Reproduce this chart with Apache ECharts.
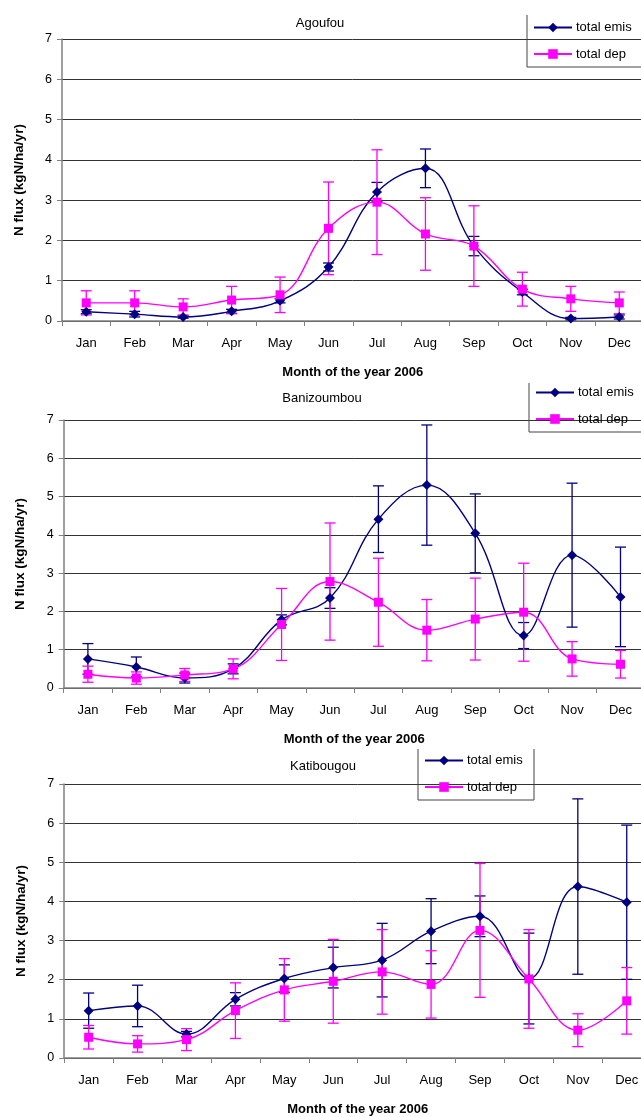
<!DOCTYPE html>
<html><head><meta charset="utf-8">
<script src="https://cdn.jsdelivr.net/npm/echarts@6/dist/echarts.min.js"></script>
<style>html,body{margin:0;padding:0;overflow:hidden;background:#fff;width:641px;height:1117px}#c{width:660px;height:1117px}</style>
</head><body><div id="c"></div>
<script>
const months = ['Jan','Feb','Mar','Apr','May','Jun','Jul','Aug','Sep','Oct','Nov','Dec'];
const siteNames = ['Agoufou','Banizoumbou','Katibougou'];
const xTitle = 'Month of the year 2006';
const yTitle = 'N flux (kgN/ha/yr)';
const yTicks = [0,1,2,3,4,5,6,7];

const agoufouEmis    = [0.23,0.17,0.10,0.24,0.50,1.34,3.20,3.79,1.86,0.72,0.06,0.10];
const agoufouEmisErr = [0.05,0.07,0.03,0.05,0.05,0.10,0.24,0.48,0.24,0.07,0.03,0.05];
const agoufouDep     = [0.45,0.45,0.35,0.52,0.65,2.30,2.95,2.16,1.86,0.79,0.55,0.45];
const agoufouDepErr  = [0.30,0.30,0.20,0.34,0.44,1.15,1.30,0.90,1.00,0.42,0.31,0.27];

const baniEmis    = [0.76,0.55,0.26,0.50,1.78,2.35,4.41,5.30,4.04,1.37,3.47,2.38];
const baniEmisErr = [0.40,0.26,0.13,0.13,0.13,0.27,0.87,1.57,1.03,0.34,1.88,1.30];
const baniDep     = [0.36,0.26,0.34,0.50,1.66,2.78,2.24,1.51,1.80,1.98,0.76,0.62];
const baniDepErr  = [0.21,0.16,0.17,0.26,0.94,1.53,1.15,0.80,1.07,1.28,0.45,0.36];

const katiEmis    = [1.21,1.33,0.61,1.50,2.03,2.31,2.50,3.24,3.62,2.03,4.38,3.98];
const katiEmisErr = [0.45,0.53,0.07,0.17,0.35,0.52,0.94,0.83,0.52,1.16,2.24,1.97];
const katiDep     = [0.53,0.36,0.47,1.21,1.74,1.96,2.20,1.88,3.26,2.02,0.71,1.46];
const katiDepErr  = [0.30,0.21,0.28,0.71,0.80,1.07,1.08,0.86,1.71,1.26,0.42,0.85];

const EMIS = '#000080', DEP = '#FF00FF';
const FONT = 'Liberation Sans, Arial, sans-serif';

const panels = [
  {emis: agoufouEmis, emisErr: agoufouEmisErr, dep: agoufouDep, depErr: agoufouDepErr},
  {emis: baniEmis, emisErr: baniEmisErr, dep: baniDep, depErr: baniDepErr},
  {emis: katiEmis, emisErr: katiEmisErr, dep: katiDep, depErr: katiDepErr}
];

// layout (pixels)
const gridPos = [
  {left: 62, top: 39, width: 581.5, height: 282},
  {left: 63.7, top: 420, width: 581, height: 268},
  {left: 64.2, top: 784, width: 587, height: 276}
];
const titlePos = [{x: 320, y: 17}, {x: 322, y: 392}, {x: 323, y: 760}];
const legendPos = [{left: 533, top: 21}, {left: 535, top: 386}, {left: 424, top: 754}];
const legendBox = [
  [[527,15],[527,67],[660,67]],
  [[529,383],[529,432],[660,432]],
  [[418,749],[418,800],[534,800],[534,749]]
];

function errItem(color) {
  return function (params, api) {
    const i = api.value(0), lo = api.value(1), hi = api.value(2);
    const a = api.coord([i, hi]), b = api.coord([i, lo]);
    const w = 5.5;
    const style = {stroke: color, lineWidth: 1.3, fill: null};
    return {type: 'group', children: [
      {type: 'line', shape: {x1: a[0], y1: a[1], x2: b[0], y2: b[1]}, style: style},
      {type: 'line', shape: {x1: a[0]-w, y1: a[1], x2: a[0]+w, y2: a[1]}, style: style},
      {type: 'line', shape: {x1: b[0]-w, y1: b[1], x2: b[0]+w, y2: b[1]}, style: style}
    ]};
  };
}
function errData(vals, errs) {
  return vals.map((v, i) => [i, Math.max(0, v - errs[i]), v + errs[i]]);
}

const option = {
  animation: false,
  backgroundColor: '#fff',
  textStyle: {fontFamily: FONT},
  title: siteNames.map((n, k) => ({
    text: n, left: titlePos[k].x, top: titlePos[k].y, textAlign: 'center', padding: 0,
    textStyle: {fontSize: 13, fontWeight: 'normal', color: '#000', fontFamily: FONT}
  })),
  grid: gridPos.map(g => Object.assign({containLabel: false}, g)),
  legend: legendPos.map(p => ({
    orient: 'vertical', left: p.left, top: p.top, padding: 0, itemGap: 13.5,
    itemWidth: 38, itemHeight: 12, data: ['total emis', 'total dep'],
    textStyle: {fontSize: 13, color: '#000', fontFamily: FONT, padding: [0,0,0,-1]},
    selectedMode: false
  })),
  graphic: legendBox.map(pts => ({
    type: 'polyline', shape: {points: pts}, style: {stroke: '#444', lineWidth: 1, fill: null}, z: 100
  })),
  xAxis: panels.map((p, k) => ({
    type: 'category', gridIndex: k, data: months, boundaryGap: true,
    name: xTitle, nameLocation: 'middle', nameGap: 45,
    nameTextStyle: {fontSize: 13, fontWeight: 'bold', color: '#000', fontFamily: FONT},
    axisLine: {lineStyle: {color: '#808080', width: 1.5}},
    axisTick: {show: true, length: 5, alignWithLabel: false, lineStyle: {color: '#808080'}},
    axisLabel: {fontSize: 13, color: '#000', margin: 16, interval: 0, fontFamily: FONT},
    splitLine: {show: false}
  })),
  yAxis: panels.map((p, k) => ({
    type: 'value', gridIndex: k, min: yTicks[0], max: yTicks[yTicks.length-1], interval: 1,
    name: yTitle, nameLocation: 'middle', nameGap: 36,
    nameTextStyle: {fontSize: 13.5, fontWeight: 'bold', color: '#000', fontFamily: FONT},
    axisLine: {show: true, lineStyle: {color: '#808080', width: 1.5}},
    axisTick: {show: true, length: 5, lineStyle: {color: '#808080'}},
    axisLabel: {fontSize: 12.5, color: '#000', margin: 10, fontFamily: FONT},
    splitLine: {show: true, lineStyle: {color: '#333', width: 1}}
  })),
  series: []
};

panels.forEach((p, k) => {
  option.series.push({
    type: 'custom', name: 'emis err', xAxisIndex: k, yAxisIndex: k,
    renderItem: errItem(EMIS), encode: {x: 0, y: [1, 2]}, data: errData(p.emis, p.emisErr), z: 2
  });
  option.series.push({
    type: 'custom', name: 'dep err', xAxisIndex: k, yAxisIndex: k,
    renderItem: errItem(DEP), encode: {x: 0, y: [1, 2]}, data: errData(p.dep, p.depErr), z: 2
  });
  option.series.push({
    type: 'line', name: 'total emis', xAxisIndex: k, yAxisIndex: k, data: p.emis,
    smooth: 0.4, symbol: 'diamond', symbolSize: 10, showAllSymbol: true,
    lineStyle: {color: EMIS, width: 1.4}, itemStyle: {color: EMIS, borderWidth: 0}, z: 3
  });
  option.series.push({
    type: 'line', name: 'total dep', xAxisIndex: k, yAxisIndex: k, data: p.dep,
    smooth: 0.4, symbol: 'rect', symbolSize: 9, showAllSymbol: true,
    lineStyle: {color: DEP, width: 1.4}, itemStyle: {color: DEP, borderWidth: 0}, z: 4
  });
});

const chart = echarts.init(document.getElementById('c'), null, {renderer: 'canvas'});
chart.setOption(option);
</script>
</body></html>
